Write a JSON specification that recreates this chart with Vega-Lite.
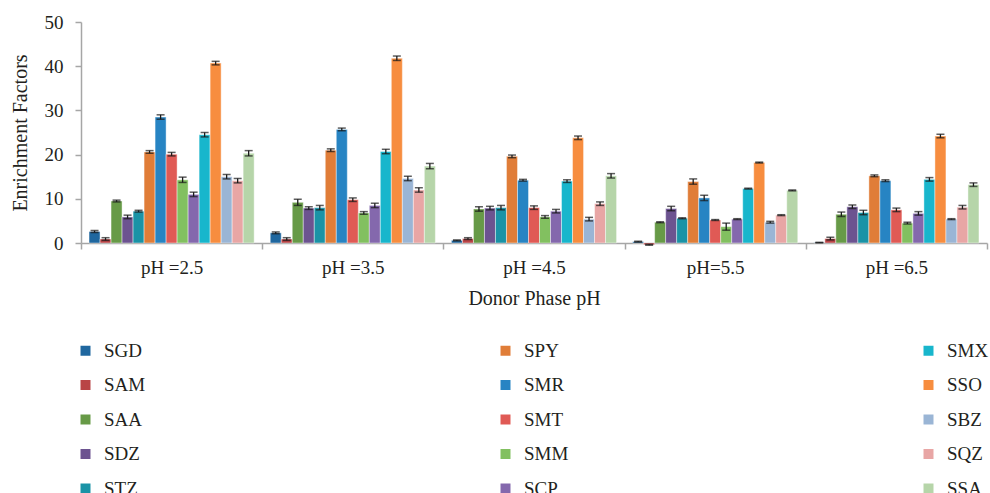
{
  "$schema": "https://vega.github.io/schema/vega-lite/v6.json",
  "autosize": "none",
  "width": 906,
  "height": 221,
  "padding": {"left": 81, "top": 22, "right": 3, "bottom": 250},
  "background": "white",
  "config": {
    "view": {"stroke": null},
    "font": "Liberation Serif",
    "axis": {
      "labelFont": "Liberation Serif",
      "titleFont": "Liberation Serif",
      "labelFontSize": 19,
      "titleFontSize": 20,
      "labelColor": "#231f20",
      "titleColor": "#231f20",
      "titleFontWeight": "normal",
      "domainColor": "#a6a6a6",
      "tickColor": "#a6a6a6",
      "domainWidth": 1.5,
      "tickWidth": 1.5,
      "grid": false
    }
  },
  "data": {
    "values": [
      {"pH": "pH =2.5", "compound": "SGD", "value": 2.6, "err": 0.2},
      {"pH": "pH =2.5", "compound": "SAM", "value": 0.9, "err": 0.3},
      {"pH": "pH =2.5", "compound": "SAA", "value": 9.5, "err": 0.2},
      {"pH": "pH =2.5", "compound": "SDZ", "value": 5.9, "err": 0.4},
      {"pH": "pH =2.5", "compound": "STZ", "value": 7.2, "err": 0.2},
      {"pH": "pH =2.5", "compound": "SPY", "value": 20.6, "err": 0.3},
      {"pH": "pH =2.5", "compound": "SMR", "value": 28.5, "err": 0.5},
      {"pH": "pH =2.5", "compound": "SMT", "value": 20.1, "err": 0.4},
      {"pH": "pH =2.5", "compound": "SMM", "value": 14.3, "err": 0.6},
      {"pH": "pH =2.5", "compound": "SCP", "value": 11.0, "err": 0.5},
      {"pH": "pH =2.5", "compound": "SMX", "value": 24.5, "err": 0.5},
      {"pH": "pH =2.5", "compound": "SSO", "value": 40.7, "err": 0.4},
      {"pH": "pH =2.5", "compound": "SBZ", "value": 15.0, "err": 0.5},
      {"pH": "pH =2.5", "compound": "SQZ", "value": 14.1, "err": 0.5},
      {"pH": "pH =2.5", "compound": "SSA", "value": 20.3, "err": 0.6},
      {"pH": "pH =3.5", "compound": "SGD", "value": 2.3, "err": 0.2},
      {"pH": "pH =3.5", "compound": "SAM", "value": 0.9, "err": 0.3},
      {"pH": "pH =3.5", "compound": "SAA", "value": 9.2, "err": 0.7},
      {"pH": "pH =3.5", "compound": "SDZ", "value": 7.9, "err": 0.3},
      {"pH": "pH =3.5", "compound": "STZ", "value": 8.0, "err": 0.5},
      {"pH": "pH =3.5", "compound": "SPY", "value": 21.0, "err": 0.3},
      {"pH": "pH =3.5", "compound": "SMR", "value": 25.7, "err": 0.3},
      {"pH": "pH =3.5", "compound": "SMT", "value": 9.8, "err": 0.4},
      {"pH": "pH =3.5", "compound": "SMM", "value": 6.8, "err": 0.3},
      {"pH": "pH =3.5", "compound": "SCP", "value": 8.5, "err": 0.5},
      {"pH": "pH =3.5", "compound": "SMX", "value": 20.7, "err": 0.5},
      {"pH": "pH =3.5", "compound": "SSO", "value": 41.8, "err": 0.5},
      {"pH": "pH =3.5", "compound": "SBZ", "value": 14.6, "err": 0.5},
      {"pH": "pH =3.5", "compound": "SQZ", "value": 12.0, "err": 0.5},
      {"pH": "pH =3.5", "compound": "SSA", "value": 17.4, "err": 0.6},
      {"pH": "pH =4.5", "compound": "SGD", "value": 0.6, "err": 0.1},
      {"pH": "pH =4.5", "compound": "SAM", "value": 1.0, "err": 0.2},
      {"pH": "pH =4.5", "compound": "SAA", "value": 7.7, "err": 0.5},
      {"pH": "pH =4.5", "compound": "SDZ", "value": 7.9, "err": 0.4},
      {"pH": "pH =4.5", "compound": "STZ", "value": 8.0, "err": 0.5},
      {"pH": "pH =4.5", "compound": "SPY", "value": 19.6, "err": 0.3},
      {"pH": "pH =4.5", "compound": "SMR", "value": 14.2, "err": 0.2},
      {"pH": "pH =4.5", "compound": "SMT", "value": 8.0, "err": 0.4},
      {"pH": "pH =4.5", "compound": "SMM", "value": 5.9, "err": 0.3},
      {"pH": "pH =4.5", "compound": "SCP", "value": 7.2, "err": 0.4},
      {"pH": "pH =4.5", "compound": "SMX", "value": 14.0, "err": 0.3},
      {"pH": "pH =4.5", "compound": "SSO", "value": 23.8, "err": 0.4},
      {"pH": "pH =4.5", "compound": "SBZ", "value": 5.4, "err": 0.4},
      {"pH": "pH =4.5", "compound": "SQZ", "value": 8.9, "err": 0.4},
      {"pH": "pH =4.5", "compound": "SSA", "value": 15.2, "err": 0.5},
      {"pH": "pH=5.5", "compound": "SGD", "value": 0.3, "err": 0.1},
      {"pH": "pH=5.5", "compound": "SAM", "value": -0.4, "err": 0.1},
      {"pH": "pH=5.5", "compound": "SAA", "value": 4.7, "err": 0.1},
      {"pH": "pH=5.5", "compound": "SDZ", "value": 7.8, "err": 0.5},
      {"pH": "pH=5.5", "compound": "STZ", "value": 5.6, "err": 0.1},
      {"pH": "pH=5.5", "compound": "SPY", "value": 13.9, "err": 0.6},
      {"pH": "pH=5.5", "compound": "SMR", "value": 10.2, "err": 0.6},
      {"pH": "pH=5.5", "compound": "SMT", "value": 5.2, "err": 0.1},
      {"pH": "pH=5.5", "compound": "SMM", "value": 3.7, "err": 0.8},
      {"pH": "pH=5.5", "compound": "SCP", "value": 5.4, "err": 0.1},
      {"pH": "pH=5.5", "compound": "SMX", "value": 12.3, "err": 0.1},
      {"pH": "pH=5.5", "compound": "SSO", "value": 18.2, "err": 0.1},
      {"pH": "pH=5.5", "compound": "SBZ", "value": 4.7, "err": 0.2},
      {"pH": "pH=5.5", "compound": "SQZ", "value": 6.3, "err": 0.1},
      {"pH": "pH=5.5", "compound": "SSA", "value": 11.9, "err": 0.1},
      {"pH": "pH =6.5", "compound": "SGD", "value": 0.1, "err": 0.05},
      {"pH": "pH =6.5", "compound": "SAM", "value": 1.0, "err": 0.3},
      {"pH": "pH =6.5", "compound": "SAA", "value": 6.5, "err": 0.5},
      {"pH": "pH =6.5", "compound": "SDZ", "value": 8.2, "err": 0.4},
      {"pH": "pH =6.5", "compound": "STZ", "value": 6.9, "err": 0.5},
      {"pH": "pH =6.5", "compound": "SPY", "value": 15.2, "err": 0.2},
      {"pH": "pH =6.5", "compound": "SMR", "value": 14.1, "err": 0.2},
      {"pH": "pH =6.5", "compound": "SMT", "value": 7.5, "err": 0.4},
      {"pH": "pH =6.5", "compound": "SMM", "value": 4.5, "err": 0.2},
      {"pH": "pH =6.5", "compound": "SCP", "value": 6.7, "err": 0.4},
      {"pH": "pH =6.5", "compound": "SMX", "value": 14.4, "err": 0.4},
      {"pH": "pH =6.5", "compound": "SSO", "value": 24.2, "err": 0.4},
      {"pH": "pH =6.5", "compound": "SBZ", "value": 5.4, "err": 0.1},
      {"pH": "pH =6.5", "compound": "SQZ", "value": 8.1, "err": 0.4},
      {"pH": "pH =6.5", "compound": "SSA", "value": 13.2, "err": 0.4}
    ]
  },
  "encoding": {
    "x": {
      "field": "pH",
      "type": "nominal",
      "sort": null,
      "title": "Donor Phase pH",
      "scale": {"paddingInner": 0, "paddingOuter": 0},
      "axis": {
        "labelAngle": 0,
        "tickBand": "extent",
        "tickSize": 6,
        "labelPadding": 9,
        "titlePadding": 11
      }
    },
    "xOffset": {
      "field": "compound",
      "type": "nominal",
      "scale": {
        "domain": ["SGD", "SAM", "SAA", "SDZ", "STZ", "SPY", "SMR", "SMT", "SMM", "SCP", "SMX", "SSO", "SBZ", "SQZ", "SSA"],
        "paddingInner": 0,
        "paddingOuter": 0.73
      }
    }
  },
  "layer": [
    {
      "mark": {"type": "bar", "stroke": "#ffffff", "strokeWidth": 0.6, "strokeOpacity": 0.7},
      "encoding": {
        "y": {
          "field": "value",
          "type": "quantitative",
          "title": "Enrichment Factors",
          "scale": {"domain": [0, 50], "nice": false, "zero": true},
          "axis": {"values": [0, 10, 20, 30, 40, 50], "tickSize": 6, "labelPadding": 12, "titlePadding": 14}
        },
        "color": {
          "field": "compound",
          "type": "nominal",
          "scale": {
            "domain": ["SGD", "SAM", "SAA", "SDZ", "STZ", "SPY", "SMR", "SMT", "SMM", "SCP", "SMX", "SSO", "SBZ", "SQZ", "SSA"],
            "range": ["#1f679f", "#b94446", "#679a47", "#6c5390", "#1a93a6", "#e07d38", "#2784c3", "#e05a55", "#82c060", "#8468ad", "#18b6cc", "#f78d3f", "#9ab5d5", "#e8a6a5", "#b6d5a9"]
          },
          "legend": {
            "title": null,
            "orient": "none",
            "legendX": -5,
            "legendY": 319,
            "columns": 3,
            "columnPadding": 350,
            "rowPadding": 14.5,
            "padding": 0,
            "symbolType": "square",
            "symbolSize": 100,
            "symbolStrokeWidth": 0,
            "labelFont": "Liberation Serif",
            "labelFontSize": 19,
            "labelColor": "#231f20",
            "labelOffset": 9
          }
        }
      }
    },
    {
      "mark": {
        "type": "errorbar",
        "color": "#1a1a1a",
        "thickness": 1.3,
        "ticks": {"size": 8, "color": "#1a1a1a", "thickness": 1.5}
      },
      "encoding": {
        "y": {"field": "value", "type": "quantitative", "title": "Enrichment Factors"},
        "yError": {"field": "err"}
      }
    }
  ]
}
